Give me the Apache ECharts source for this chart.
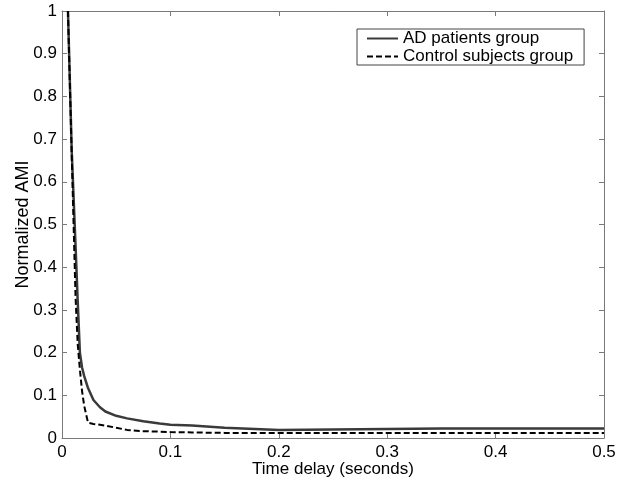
<!DOCTYPE html>
<html>
<head>
<meta charset="utf-8">
<script src="https://cdn.jsdelivr.net/npm/echarts@6/dist/echarts.min.js"></script>
<style>html,body{margin:0;padding:0;background:#fff;}#c{width:626px;height:483px;}</style>
</head>
<body>
<div id="c"></div>
<script>
const timeDelay = [0.0055, 0.009, 0.0125, 0.0145, 0.0165, 0.0185, 0.0205, 0.024, 0.029, 0.035, 0.04, 0.05, 0.06, 0.075, 0.09, 0.1, 0.12, 0.15, 0.2, 0.25, 0.3, 0.35, 0.4, 0.45, 0.5];
const adPatients = [1, 0.67, 0.45, 0.32, 0.2, 0.165, 0.145, 0.117, 0.089, 0.072, 0.062, 0.052, 0.046, 0.039, 0.034, 0.031, 0.029, 0.024, 0.019, 0.02, 0.021, 0.022, 0.022, 0.022, 0.022];
const controlSubjects = [1, 0.66, 0.33, 0.22, 0.16, 0.11, 0.075, 0.036, 0.033, 0.031, 0.029, 0.024, 0.019, 0.016, 0.015, 0.014, 0.013, 0.012, 0.012, 0.012, 0.012, 0.012, 0.012, 0.012, 0.012];
const xTicks = [0, 0.1, 0.2, 0.3, 0.4, 0.5];
const yTicks = [0, 0.1, 0.2, 0.3, 0.4, 0.5, 0.6, 0.7, 0.8, 0.9, 1];
const seriesNames = ['AD patients group', 'Control subjects group'];

const pair = (ys) => timeDelay.map((x, i) => [x, ys[i]]);
const font = 'Arial, "Liberation Sans", sans-serif';
const axisGrey = '#7a7a7a';

const chart = echarts.init(document.getElementById('c'), null, {renderer: 'canvas'});
const baseAxis = {
  axisLine: {show: true, onZero: false, lineStyle: {color: axisGrey, width: 1}},
  axisTick: {show: true, inside: true, length: 5, lineStyle: {color: axisGrey}},
  splitLine: {show: false}
};
chart.setOption({
  animation: false,
  backgroundColor: '#fff',
  grid: {left: 62, top: 11, right: 22, bottom: 45, containLabel: false, outerBoundsMode: 'none'},
  legend: {
    orient: 'vertical', left: 357, top: 29,
    borderColor: '#444', borderWidth: 1, padding: [1, 11, 0, 9],
    itemWidth: 31, itemHeight: 14, itemGap: 1,
    itemStyle: {opacity: 0},
    textStyle: {fontFamily: font, fontSize: 17, color: '#000', lineHeight: 17},
    data: seriesNames
  },
  xAxis: [
    Object.assign({}, baseAxis, {
      type: 'value', min: xTicks[0], max: xTicks[xTicks.length - 1], interval: 0.1, position: 'bottom',
      name: 'Time delay (seconds)', nameLocation: 'middle', nameGap: 23, nameMoveOverlap: false,
      nameTextStyle: {fontFamily: font, fontSize: 17, color: '#000'},
      axisLabel: {fontFamily: font, fontSize: 17, color: '#000', margin: 6}
    }),
    Object.assign({}, baseAxis, {
      type: 'value', min: xTicks[0], max: xTicks[xTicks.length - 1], interval: 0.1, position: 'top',
      axisLabel: {show: false}
    })
  ],
  yAxis: [
    Object.assign({}, baseAxis, {
      type: 'value', min: yTicks[0], max: yTicks[yTicks.length - 1], interval: 0.1, position: 'left',
      name: 'Normalized AMI', nameLocation: 'middle', nameGap: 30, nameRotate: 90, nameMoveOverlap: false,
      nameTextStyle: {fontFamily: font, fontSize: 18, color: '#000'},
      axisLabel: {fontFamily: font, fontSize: 17, color: '#000', margin: 5}
    }),
    Object.assign({}, baseAxis, {
      type: 'value', min: yTicks[0], max: yTicks[yTicks.length - 1], interval: 0.1, position: 'right',
      axisLabel: {show: false}
    })
  ],
  series: [
    {
      name: seriesNames[0], type: 'line', data: pair(adPatients),
      symbol: 'none', showSymbol: false, smooth: false,
      lineStyle: {color: '#3a3a3a', width: 2.5, type: 'solid'},
      itemStyle: {color: '#3a3a3a'}
    },
    {
      name: seriesNames[1], type: 'line', data: pair(controlSubjects),
      symbol: 'none', showSymbol: false, smooth: false,
      lineStyle: {color: '#000', width: 2, type: [6, 3]},
      itemStyle: {color: '#000'}
    }
  ]
});
</script>
</body>
</html>
